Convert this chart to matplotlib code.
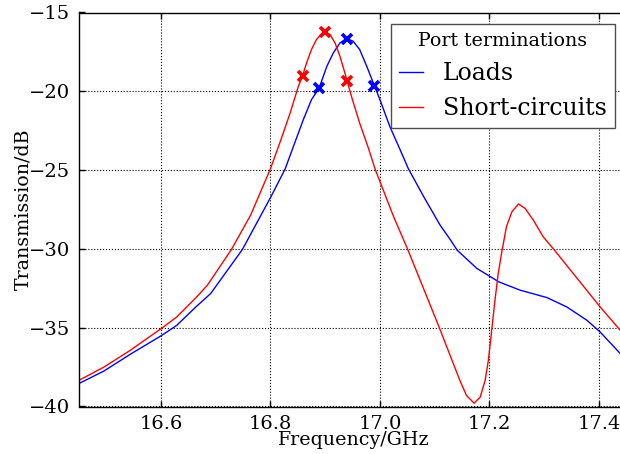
import matplotlib
matplotlib.use("Agg")
import matplotlib.pyplot as plt

plt.rcParams["font.family"] = ["DejaVu Serif"]
plt.rcParams["axes.unicode_minus"] = True

# Measured transmission with the ports terminated in matched loads
freq_loads = [16.450, 16.496, 16.544, 16.602, 16.629, 16.664, 16.691, 16.749,
              16.801, 16.827, 16.842, 16.860, 16.875, 16.889, 16.903, 16.915,
              16.927, 16.939, 16.951, 16.963, 16.976, 16.990, 17.000, 17.018,
              17.037, 17.052, 17.080, 17.110, 17.129, 17.141, 17.177, 17.217,
              17.256, 17.305, 17.341, 17.378, 17.402, 17.439, 17.450]
db_loads = [-38.55, -37.75, -36.69, -35.48, -34.85, -33.68, -32.83, -30.03,
            -26.69, -24.92, -23.50, -21.81, -20.53, -19.79, -18.42, -17.56,
            -16.93, -16.65, -16.82, -17.35, -18.42, -19.66, -20.53, -22.23,
            -23.72, -24.92, -26.69, -28.50, -29.44, -30.08, -31.24, -32.09,
            -32.62, -33.09, -33.68, -34.53, -35.27, -36.65, -37.10]

# Measured transmission with the ports short-circuited
freq_short = [16.450, 16.496, 16.544, 16.602, 16.629, 16.664, 16.685, 16.729,
              16.764, 16.800, 16.817, 16.836, 16.851, 16.859, 16.866, 16.875,
              16.884, 16.894, 16.900, 16.909, 16.918, 16.927, 16.936, 16.940,
              16.948, 16.963, 16.979, 16.991, 17.025, 17.050, 17.108, 17.146,
              17.158, 17.172, 17.183, 17.192, 17.198, 17.204, 17.210, 17.216,
              17.222, 17.231, 17.241, 17.253, 17.265, 17.280, 17.298, 17.317,
              17.402, 17.439, 17.450]
db_short = [-38.35, -37.50, -36.44, -35.02, -34.32, -33.10, -32.30, -30.03,
            -27.85, -24.92, -23.29, -21.38, -19.69, -19.00, -18.20, -17.35,
            -16.72, -16.34, -16.25, -16.40, -16.93, -17.78, -18.84, -19.33,
            -20.32, -22.02, -23.61, -24.92, -27.96, -29.97, -34.96, -38.35,
            -39.30, -39.79, -39.41, -38.35, -37.07, -35.17, -33.26, -31.56,
            -30.29, -28.59, -27.64, -27.15, -27.43, -28.17, -29.23, -30.01,
            -33.68, -35.17, -35.60]

# 3 dB points and peak of each resonance
mark_freq_loads = [16.889, 16.939, 16.990]
mark_db_loads = [-19.79, -16.65, -19.66]
mark_freq_short = [16.859, 16.900, 16.940]
mark_db_short = [-19.00, -16.25, -19.33]

x_ticks = [16.6, 16.8, 17.0, 17.2, 17.4]
y_ticks = [-40, -35, -30, -25, -20, -15]

fig = plt.figure(figsize=(6.2, 4.54), dpi=100)
ax = fig.add_axes([78.7 / 620, 47.5 / 454, (626.4 - 78.7) / 620, 394.0 / 454])

ax.plot(freq_loads, db_loads, color="b", lw=1.0, label="Loads")
ax.plot(freq_short, db_short, color="r", lw=1.0, label="Short-circuits")
ax.plot(mark_freq_loads, mark_db_loads, ls="none", marker="x", ms=7.5,
        mew=2.6, color="b")
ax.plot(mark_freq_short, mark_db_short, ls="none", marker="x", ms=7.5,
        mew=2.6, color="r")

ax.set_xlim(16.45, 17.45)
ax.set_ylim(-40, -15)
ax.set_xticks(x_ticks)
ax.set_yticks(y_ticks)
ax.set_xticklabels([f"{v:.1f}" for v in x_ticks])
ax.tick_params(direction="in", length=4, width=1, top=True, right=True,
               labelsize=14, pad=6)
ax.grid(True, color="k", linestyle=":", linewidth=0.8)
for s in ax.spines.values():
    s.set_linewidth(1.0)

ax.set_xlabel("Frequency/GHz", fontsize=13.7, labelpad=-1)
ax.set_ylabel("Transmission/dB", fontsize=13.7, labelpad=-2)

leg = ax.legend(title="Port terminations", loc="upper right",
                bbox_to_anchor=(615 / 620, 1 - 24 / 454),
                bbox_transform=fig.transFigure, borderaxespad=0,
                fontsize=17, title_fontsize=13.7, fancybox=False,
                handlelength=1.0, handletextpad=0.85, borderpad=0.35,
                labelspacing=0.5, framealpha=1)
leg.get_frame().set_edgecolor("0.3")
leg.get_frame().set_linewidth(1.0)

fig.savefig("out.png", dpi=100)
